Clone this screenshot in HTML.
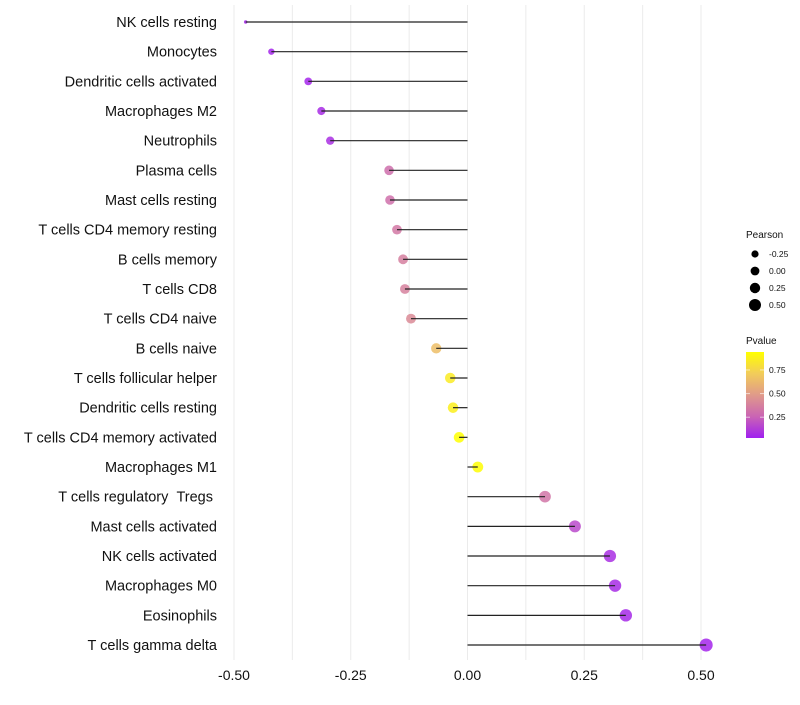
<!DOCTYPE html>
<html><head><meta charset="utf-8"><style>
body{margin:0;background:#fff;font-family:"Liberation Sans",sans-serif}
</style></head><body>
<svg id="c" width="800" height="700"></svg>
<script>
const categories=["NK cells resting","Monocytes","Dendritic cells activated","Macrophages M2","Neutrophils","Plasma cells","Mast cells resting","T cells CD4 memory resting","B cells memory","T cells CD8","T cells CD4 naive","B cells naive","T cells follicular helper","Dendritic cells resting","T cells CD4 memory activated","Macrophages M1","T cells regulatory\u00a0\u00a0Tregs\u00a0","Mast cells activated","NK cells activated","Macrophages M0","Eosinophils","T cells gamma delta"];
const pearson=[-0.475,-0.42,-0.341,-0.313,-0.294,-0.168,-0.166,-0.151,-0.138,-0.134,-0.121,-0.067,-0.037,-0.031,-0.018,0.022,0.166,0.23,0.305,0.316,0.339,0.511];
const pvalue=[0.05,0.05,0.05,0.07,0.08,0.3,0.31,0.34,0.37,0.38,0.42,0.65,0.85,0.87,0.95,0.93,0.33,0.17,0.08,0.07,0.06,0.05];
const xTicks=[-0.5,-0.25,0,0.25,0.5];
const xTickLabels=["-0.50","-0.25","0.00","0.25","0.50"];
const sizeLegend=[-0.25,0,0.25,0.5];
const sizeLegendLabels=["-0.25","0.00","0.25","0.50"];
const colorLegend=[0.75,0.5,0.25];
const colorLegendLabels=["0.75","0.50","0.25"];
const NS="http://www.w3.org/2000/svg",svg=document.getElementById('c');
const X=v=>467.5+v*467, Y=i=>22+i*29.667;
const pmin=Math.min(...pearson),pmax=Math.max(...pearson);
const R=v=>Math.sqrt(3+40*Math.pow(Math.max(0,(v-pmin)/(pmax-pmin)),0.6));
const stops=[[160,32,240],[202,100,180],[224,154,138],[242,204,90],[255,255,0]];
function col(p){p=Math.max(0,Math.min(1,(p-0.03)/0.91));const t=p*4,i=Math.min(3,Math.floor(t)),f=t-i;
return 'rgb('+stops[i].map((c,k)=>Math.round(c+(stops[i+1][k]-c)*f)).join(',')+')';}
function el(t,a,txt){const e=document.createElementNS(NS,t);for(const k in a)e.setAttribute(k,a[k]);if(txt!=null)e.textContent=txt;svg.appendChild(e);return e;}
for(let v=-0.5;v<=0.5001;v+=0.125){const g=el('line',{x1:X(v),x2:X(v),y1:5,y2:660,stroke:'#ebebeb','stroke-width':1});
}
xTicks.forEach((v,i)=>{const t=el('text',{x:X(v),y:680,'text-anchor':'middle','font-size':14,fill:'#111'},xTickLabels[i]);
});
categories.forEach((c,i)=>{
const t=el('text',{x:217,y:Y(i)+5,'text-anchor':'end','font-size':14.5,fill:'#111'},c);

const p=el('circle',{cx:X(pearson[i]),cy:Y(i),r:R(pearson[i]),fill:col(pvalue[i]),'fill-opacity':0.85});

const l=el('line',{x1:X(0),x2:X(pearson[i]),y1:Y(i),y2:Y(i),stroke:'#222','stroke-width':1.2});

});
let t=el('text',{x:746,y:238,'font-size':10,fill:'#111'},'Pearson');

sizeLegend.forEach((v,i)=>{const y=254+i*17;
const c=el('circle',{cx:755,cy:y,r:3.6+i*0.8,fill:'#000'});

const l=el('text',{x:769,y:y+3,'font-size':8.5,fill:'#111'},sizeLegendLabels[i]);
});
t=el('text',{x:746,y:344,'font-size':10,fill:'#111'},'Pvalue');

const defs=el('defs',{});const lg=document.createElementNS(NS,'linearGradient');lg.setAttribute('id','g');
lg.setAttribute('x1','0');lg.setAttribute('y1','1');lg.setAttribute('x2','0');lg.setAttribute('y2','0');
stops.forEach((s,i)=>{const st=document.createElementNS(NS,'stop');st.setAttribute('offset',i/4);st.setAttribute('stop-color','rgb('+s.join(',')+')');lg.appendChild(st);});
defs.appendChild(lg);
const bar=el('rect',{x:746,y:352,width:18,height:86,fill:'url(#g)'});

colorLegend.forEach((v,i)=>{const y=438-(v-0.03)/0.91*86;
el('line',{x1:746,x2:750,y1:y,y2:y,stroke:'#fff','stroke-opacity':0.6});el('line',{x1:760,x2:764,y1:y,y2:y,stroke:'#fff','stroke-opacity':0.6});
const l=el('text',{x:769,y:y+3,'font-size':8.5,fill:'#111'},colorLegendLabels[i]);
});
</script>
</body></html>
